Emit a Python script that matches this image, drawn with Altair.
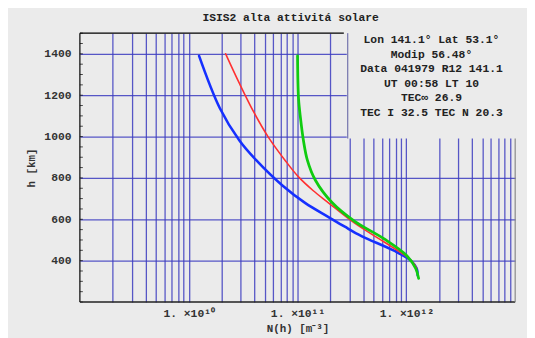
import altair as alt
import pandas as pd

# ---------------- text ----------------
title_text = "ISIS2 alta attivitá solare"
x_title = "N(h) [m⁻³]"
y_title = "h [km]"
info_lines = [
    "Lon  141.1° Lat  53.1°",
    "Modip 56.48°",
    "Data 041979 R12 141.1",
    "UT 00:58 LT 10",
    "TEC∞ 26.9",
    "TEC I 32.5 TEC N 20.3",
]

# ---------------- data ----------------
blue_N = [1.245e10, 1.928e10, 2.924e10, 4.17e10, 7.31e10, 1.181e11, 1.91e11, 2.72e11,
          3.87e11, 7.71e11, 1.099e12, 1.245e12, 1.27e12]
blue_h = [1390, 1138, 981, 886, 762, 678, 612, 564, 519, 448, 400, 362, 329]

red_N = [2.185e10, 2.924e10, 4.0e10, 5.35e10, 7.79e10, 1.021e11, 1.396e11, 1.91e11,
         3.35e11, 6.26e11, 1.01e12, 1.17e12, 1.245e12]
red_h = [1400, 1257, 1114, 1000, 881, 805, 738, 681, 581, 490, 419, 386, 362]

green_N = [1.0e11, 1.021e11, 1.064e11, 1.133e11, 1.231e11, 1.455e11, 2.074e11, 3.35e11,
           6.26e11, 1.01e12, 1.219e12, 1.297e12]
green_h = [1390, 1186, 1090, 981, 886, 790, 681, 590, 505, 424, 362, 314]

series_names = ["blue", "red", "green"]
series_colors = ["#1530ff", "#ff3030", "#10cc10"]
series_widths = [2.6, 1.6, 2.8]

# axis / grid values
x_grid = [m * 10.0 ** e for e in (9, 10, 11, 12) for m in range(1, 10)][1:]
y_grid = [400, 600, 800, 1000, 1200, 1400]
y_minor = list(range(200, 1501, 50))

rows = []
for name, Ns, hs in (("blue", blue_N, blue_h), ("red", red_N, red_h), ("green", green_N, green_h)):
    for i, (n, h) in enumerate(zip(Ns, hs)):
        rows.append({"series": name, "N": n, "h": h, "i": i})
df = pd.DataFrame(rows)

FONT = "Liberation Mono"
BG = "#ebebeb"
W, H = 442, 273

xscale = alt.Scale(type="log", domain=[1e9, 1e13], nice=False)
yscale = alt.Scale(domain=[200, 1500], nice=False, zero=False)

label_expr = ("datum.value == 1e10 ? '1. ×10¹⁰' : datum.value == 1e11 ? '1. ×10¹¹' : "
              "datum.value == 1e12 ? '1. ×10¹²' : ''")

x_axis = alt.Axis(values=x_grid, labelExpr=label_expr, labelOverlap=False,
                  labelFlush=False, ticks=False, tickSize=0, labelPadding=6,
                  titlePadding=3, grid=True, domain=False)
y_axis = alt.Axis(values=y_grid, format="d", ticks=False, tickSize=0, labelPadding=9,
                  titlePadding=7, grid=True, domain=False, labelOverlap=False)

lines = alt.Chart(df).mark_line(interpolate="catmull-rom", strokeCap="round").encode(
    x=alt.X("N:Q", scale=xscale, title=x_title, axis=x_axis),
    y=alt.Y("h:Q", scale=yscale, title=y_title, axis=y_axis, sort=None),
    color=alt.Color("series:N", scale=alt.Scale(domain=series_names, range=series_colors), legend=None),
    strokeWidth=alt.StrokeWidth("series:N",
                                scale=alt.Scale(type="ordinal", domain=series_names, range=series_widths),
                                legend=None),
    order="i:Q",
)

ticks = alt.Chart(pd.DataFrame({"h": y_minor})).mark_tick(
    orient="horizontal", color="black", thickness=1, size=3
).encode(y=alt.Y("h:Q", scale=yscale, title=y_title, axis=y_axis), x=alt.value(1.5))

one = pd.DataFrame({"a": [0]})
box = alt.Chart(one).mark_rect(fill=BG).encode(
    x=alt.value(271), x2=alt.value(470), y=alt.value(-3), y2=alt.value(107))
box_edge = alt.Chart(one).mark_rule(color="#5a5aa0", strokeWidth=1).encode(
    x=alt.value(272), y=alt.value(0), y2=alt.value(107))
top_frame = alt.Chart(one).mark_rule(color="black", strokeWidth=1.2).encode(
    x=alt.value(0), x2=alt.value(268), y=alt.value(0))
left_frame = alt.Chart(one).mark_rule(color="black", strokeWidth=1.2).encode(
    x=alt.value(0), y=alt.value(0), y2=alt.value(H))
bottom_frame = alt.Chart(one).mark_rule(color="#222222", strokeWidth=1.4).encode(
    x=alt.value(0), x2=alt.value(W), y=alt.value(H))
right_frame = alt.Chart(one).mark_rule(color="#888888", strokeWidth=1.2).encode(
    x=alt.value(W), y=alt.value(107), y2=alt.value(H))
info = alt.Chart(one).mark_text(
    font=FONT, fontSize=11.5, fontWeight="bold", color="#222222", align="center",
    baseline="top", lineBreak="\n", lineHeight=14.8
).encode(x=alt.value(357), y=alt.value(1), text=alt.value("\n".join(info_lines)))

chart = alt.layer(lines, ticks, box, box_edge, top_frame, left_frame, bottom_frame,
                  right_frame, info).properties(
    width=W, height=H,
    background=BG,
    autosize=alt.AutoSizeParams(type="none"),
    padding={"left": 73, "top": 23, "right": 12, "bottom": 34},
    title=alt.TitleParams(text=title_text, font=FONT, fontSize=11.5, fontWeight="bold",
                          color="#222222", anchor="middle", frame="group", offset=7, dx=-7),
).configure_view(stroke=None).configure_axis(
    gridColor="#3c3cc0", gridOpacity=0.85, gridWidth=1.3,
    labelFont=FONT, labelFontSize=11.5, labelFontWeight="bold", labelColor="#333333",
    titleFont=FONT, titleFontSize=11, titleFontWeight="bold", titleColor="#333333",
)

chart.save("out.html", embed_options={"renderer": "svg", "actions": False})
